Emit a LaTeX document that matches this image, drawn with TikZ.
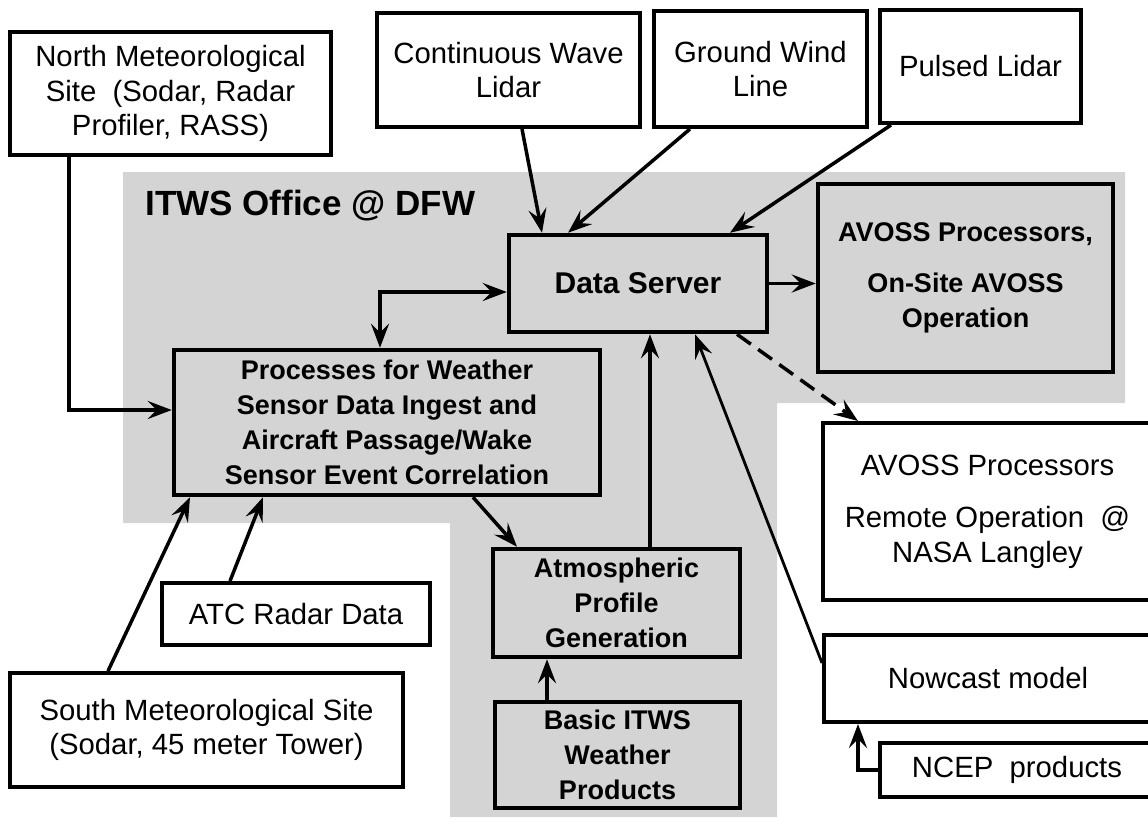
\documentclass[tikz,border=0pt]{standalone}
\usepackage{fontspec}
\setmainfont{Liberation Sans}
\usetikzlibrary{arrows.meta}
\tikzset{
  box/.style={draw, line width=4pt, fill=white, align=center, inner sep=0pt,
    font=\fontsize{29.3}{34.5}\selectfont},
  graybox/.style={box, fill=none, line width=4.5pt,
    font=\fontsize{27}{35}\selectfont\bfseries},
  headtip/.tip={Stealth[length=24pt,width=18pt,inset=9pt]},
  arr/.style={line width=3.5pt, -headtip},
  arrboth/.style={arr, headtip-headtip},
  dasharr/.style={arr, dash pattern=on 17pt off 9pt},
}
\begin{document}
\begin{tikzpicture}[x=1pt,y=-1pt]
\useasboundingbox (0,0) rectangle (1148,817);
%\draw [help lines,step=50] (0,0) grid (1148,817);
\fill [black!17] (123,172) -- (1125,172) -- (1125,403) -- (777,403) -- (777,817)
  -- (450,817) -- (450,523) -- (123,523) -- cycle;
\node [anchor=base west, font=\fontsize{35}{35}\selectfont\bfseries] (itws) at (142,215) {ITWS Office @ DFW};

\node [box, minimum width=321pt, minimum height=123pt] (northmet) at (170.5,93.5)
  {North Meteorological\\Site\ \ (Sodar, Radar\\Profiler, RASS)};
\node [box, minimum width=263pt, minimum height=114pt] (cwlidar) at (508.5,70)
  {Continuous Wave\\Lidar};
\node [box, minimum width=213pt, minimum height=116pt] (gwline) at (760.5,69)
  {Ground Wind\\Line};
\node [box, minimum width=201pt, minimum height=113pt] (pulsed) at (980.5,66.5)
  {Pulsed Lidar};
\node [graybox, minimum width=258pt, minimum height=97pt,
  font=\fontsize{30}{35}\selectfont\bfseries] (dataserver) at (638,283.5)
  {Data Server};
\node [graybox, minimum width=295pt, minimum height=188pt] (avossonsite) at (965.5,278)
  {AVOSS Processors,\\[16pt]On-Site AVOSS\\Operation};
\node [graybox, minimum width=426pt, minimum height=145pt] (processes) at (387,422.5)
  {Processes for Weather\\Sensor Data Ingest and\\Aircraft Passage/Wake\\Sensor Event Correlation};
\node [graybox, minimum width=247pt, minimum height=108pt] (atmos) at (616.5,603)
  {Atmospheric\\Profile\\Generation};
\node [graybox, minimum width=245pt, minimum height=106pt] (basic) at (617.5,755)
  {Basic ITWS\\Weather\\Products};
\node [box, minimum width=268pt, minimum height=62pt] (atc) at (296,614)
  {ATC Radar Data};
\node [box, minimum width=393pt, minimum height=114pt] (southmet) at (206.5,730)
  {South Meteorological Site\\(Sodar, 45 meter Tower)};
\node [box, minimum width=329pt, minimum height=177pt] (remote) at (987.5,511.5)
  {AVOSS Processors\\[18pt]Remote Operation\ \ @\\NASA Langley};
\node [box, minimum width=328pt, minimum height=87pt] (nowcast) at (988,678.5)
  {Nowcast model};
\node [box, minimum width=274pt, minimum height=54pt] (ncep) at (1017,770)
  {NCEP\ \ products};

\draw [arr] ([xshift=-101.5pt]northmet.south) |- ([yshift=12.5pt]processes.west);
\draw [arrboth] ([xshift=-7pt]processes.north) |- ([yshift=-8.5pt]dataserver.west);
\draw [arr] ([xshift=13.5pt]cwlidar.south) -- ([xshift=-96pt]dataserver.north);
\draw [arr] ([xshift=-70.5pt]gwline.south) -- ([xshift=-70pt]dataserver.north);
\draw [arr] ([xshift=-89.5pt]pulsed.south) -- ([xshift=92pt]dataserver.north);
\draw [arr] (dataserver.east) -- (dataserver.east -| avossonsite.west);
\draw [dasharr] ([xshift=99pt]dataserver.south) -- ([xshift=-129.5pt]remote.north);
\draw [arr] ([xshift=86pt]processes.south) -- ([xshift=-99.5pt]atmos.north);
\draw [arr] ([xshift=33.5pt]atmos.north) -- ([xshift=33.5pt]atmos.north |- dataserver.south);
\draw [arr, line width=2.8pt] ([yshift=15.5pt]nowcast.west) -- ([xshift=57pt]dataserver.south);
\draw [arr] ([xshift=-70.5pt]basic.north) -- ([xshift=-70.5pt]basic.north |- atmos.south);
\draw [arr] ([xshift=-98.5pt]southmet.north) -- ([xshift=-197pt]processes.south);
\draw [arr] ([xshift=-66pt]atc.north) -- ([xshift=-124pt]processes.south);
\draw [arr] (ncep.west) -| ([xshift=-130pt]nowcast.south);
\end{tikzpicture}
\end{document}
